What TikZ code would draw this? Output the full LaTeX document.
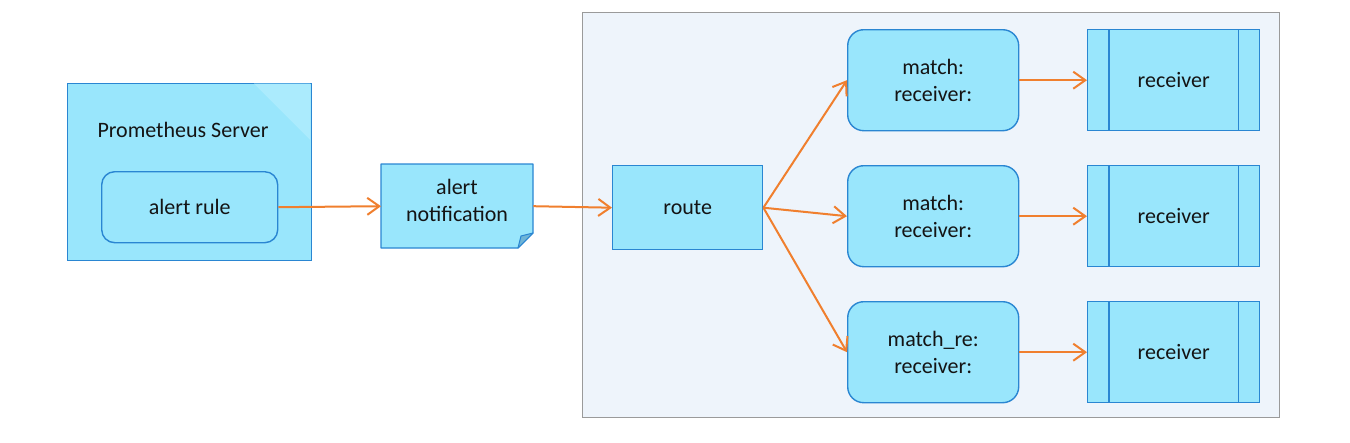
\documentclass[tikz,border=0pt]{standalone}
\usepackage{fontspec}
\setmainfont{Carlito}
\usetikzlibrary{arrows.meta}
\definecolor{boxfill}{HTML}{99E6FC}
\definecolor{boxline}{HTML}{2A86D2}
\definecolor{contfill}{HTML}{EEF4FB}
\definecolor{contline}{HTML}{9A9A9A}
\definecolor{arr}{HTML}{F07F2E}
\definecolor{foldfill}{HTML}{6FB4D6}
\definecolor{lightfill}{HTML}{ABEBFD}
\begin{document}
\begin{tikzpicture}[x=1pt,y=-1pt,
  every node/.style={font=\fontsize{22}{27}\selectfont, text=black!92, inner sep=0pt},
  sqbox/.style={draw=boxline, fill=boxfill, line width=1.4pt, anchor=north west},
  rbox/.style={sqbox, rounded corners=16pt},
  conn/.style={draw=arr, line width=2pt, -{Straight Barb[length=12pt,width=17pt,line width=2pt]}}
]
\useasboundingbox (0,0) rectangle (1350,442);
% container
\node[draw=contline, fill=contfill, line width=1.2pt, anchor=north west,
      minimum width=697pt, minimum height=405pt] (cont) at (582,12) {};
% Prometheus server
\node[sqbox, minimum width=244pt, minimum height=177pt] (prom) at (67,83) {};
\fill[lightfill] (254,83.7) -- (310.3,83.7) -- (310.3,140) -- cycle;
\node (promlbl) at (183,130) {Prometheus Server};
\node[rbox, rounded corners=13pt, minimum width=176pt, minimum height=71pt,
      align=center] (rule) at (101,171) {alert rule};
% alert notification (folded note)
\path[draw=boxline, fill=boxfill, line width=1.4pt, line join=round]
  (381,164) -- (533,164) -- (533,233) -- (518,248) -- (381,248) -- cycle;
\path[draw=boxline, fill=foldfill, line width=1pt, line join=round]
  (518,248) -- (521,236) -- (533,233) -- cycle;
\node[align=center, minimum width=152pt, minimum height=84pt, anchor=north west]
  (notif) at (381,164) {};
\node[align=center] (notiflbl) at (457,200) {alert\\notification};
% route
\node[sqbox, minimum width=150pt, minimum height=84pt] (route) at (612,165) {};
\node at (route.center) {route};
% match boxes
\node[rbox, minimum width=171pt, minimum height=101pt, align=center] (m1) at (847,29) {match:\\receiver:};
\node[rbox, minimum width=171pt, minimum height=101pt, align=center] (m2) at (847,165) {match:\\receiver:};
\node[rbox, minimum width=171pt, minimum height=101pt, align=center] (m3) at (847,301) {match\_re:\\receiver:};
% receivers
\foreach \i/\yy in {1/29,2/165,3/301}{
  \node[sqbox, minimum width=172pt, minimum height=101pt] (r\i) at (1087,\yy) {};
  \draw[boxline, line width=1.4pt] ([xshift=22pt]r\i.north west) -- ([xshift=22pt]r\i.south west);
  \draw[boxline, line width=1.4pt] ([xshift=-22pt]r\i.north east) -- ([xshift=-22pt]r\i.south east);
  \node at (r\i.center) {receiver};
}
% connectors
\draw[conn] (rule.east) -- (notif.west);
\draw[conn] (notif.east) -- (route.west);
\draw[conn] (route.east) -- (m1.west);
\draw[conn] (route.east) -- (m2.west);
\draw[conn] (route.east) -- (m3.west);
\draw[conn] (m1.east) -- (r1.west);
\draw[conn] (m2.east) -- (r2.west);
\draw[conn] (m3.east) -- (r3.west);
\end{tikzpicture}
\end{document}
